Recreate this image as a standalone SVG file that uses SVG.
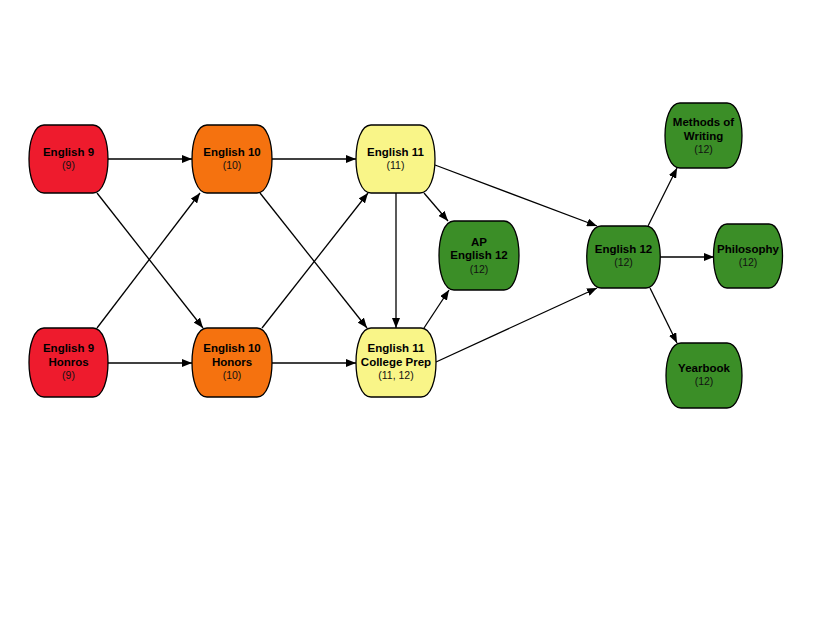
<svg xmlns="http://www.w3.org/2000/svg" width="825" height="638" viewBox="0 0 825 638">
<style>
.n{stroke:#000;stroke-width:1.3}
.red{fill:#ee1b2d}.org{fill:#f5720f}.yel{fill:#f9f588}.grn{fill:#3b8e27}
.t{font-family:"Liberation Sans",Arial,sans-serif;font-size:11.5px;font-weight:bold;text-anchor:middle;fill:#000}
.s{font-family:"Liberation Sans",Arial,sans-serif;font-size:10.5px;text-anchor:middle;fill:#111}
.e{stroke:#000;stroke-width:1.3;fill:none;marker-end:url(#ah)}
</style>
<defs>
<marker id="ah" viewBox="0 0 10 8" refX="10" refY="4" markerWidth="10" markerHeight="8" markerUnits="userSpaceOnUse" orient="auto">
<path d="M0,0 L10,4 L0,8 Z" fill="#000"/>
</marker>
</defs>
<rect width="825" height="638" fill="#fff"/>
<g id="connectors">
<line class="e" x1="108" y1="159" x2="192" y2="159"/>
<line class="e" x1="97" y1="193" x2="203" y2="328"/>
<line class="e" x1="97" y1="328" x2="200" y2="193"/>
<line class="e" x1="108" y1="363" x2="192" y2="363"/>
<line class="e" x1="272" y1="159" x2="356" y2="159"/>
<line class="e" x1="260" y1="193" x2="367" y2="328"/>
<line class="e" x1="262" y1="328" x2="368" y2="193"/>
<line class="e" x1="272" y1="363" x2="356" y2="363"/>
<line class="e" x1="424" y1="193" x2="448" y2="221"/>
<line class="e" x1="396" y1="193" x2="396" y2="328"/>
<line class="e" x1="424" y1="328" x2="449" y2="290"/>
<line class="e" x1="435" y1="165" x2="597" y2="226"/>
<line class="e" x1="436" y1="362" x2="597" y2="288"/>
<line class="e" x1="648" y1="226" x2="677" y2="168"/>
<line class="e" x1="660" y1="257" x2="714" y2="257"/>
<line class="e" x1="650" y1="288" x2="677" y2="343"/>
</g>
<g id="english9">
<path class="n red" d="M44,125 H93 C113,125 113,193 93,193 H44 C24,193 24,125 44,125 Z"/>
<text class="t" x="68.5" y="156">English 9</text>
<text class="s" x="68.5" y="169">(9)</text>
</g>
<g id="english10">
<path class="n org" d="M207,125 H257 C277,125 277,193 257,193 H207 C187,193 187,125 207,125 Z"/>
<text class="t" x="232" y="156">English 10</text>
<text class="s" x="232" y="169">(10)</text>
</g>
<g id="english11">
<path class="n yel" d="M371,125 H420 C440,125 440,193 420,193 H371 C351,193 351,125 371,125 Z"/>
<text class="t" x="395.5" y="156">English 11</text>
<text class="s" x="395.5" y="169">(11)</text>
</g>
<g id="english9honors">
<path class="n red" d="M44,328 H93 C113,328 113,397 93,397 H44 C24,397 24,328 44,328 Z"/>
<text class="t" x="68.5" y="352">English 9</text>
<text class="t" x="68.5" y="366">Honros</text>
<text class="s" x="68.5" y="379">(9)</text>
</g>
<g id="english10honors">
<path class="n org" d="M207,328 H257 C277,328 277,397 257,397 H207 C187,397 187,328 207,328 Z"/>
<text class="t" x="232" y="352">English 10</text>
<text class="t" x="232" y="366">Honors</text>
<text class="s" x="232" y="379">(10)</text>
</g>
<g id="english11cp">
<path class="n yel" d="M371,328 H421 C441,328 441,397 421,397 H371 C351,397 351,328 371,328 Z"/>
<text class="t" x="396" y="352">English 11</text>
<text class="t" x="396" y="366">College Prep</text>
<text class="s" x="396" y="379">(11, 12)</text>
</g>
<g id="apenglish12">
<path class="n grn" d="M454,221 H504 C524,221 524,290 504,290 H454 C434,290 434,221 454,221 Z"/>
<text class="t" x="479" y="246">AP</text>
<text class="t" x="479" y="259">English 12</text>
<text class="s" x="479" y="273">(12)</text>
</g>
<g id="english12">
<path class="n grn" d="M601,226 H646 C665,226 665,288 646,288 H601 C582,288 582,226 601,226 Z"/>
<text class="t" x="623.5" y="253">English 12</text>
<text class="s" x="623.5" y="266">(12)</text>
</g>
<g id="methods">
<path class="n grn" d="M680,103 H727 C747,103 747,168 727,168 H680 C660,168 660,103 680,103 Z"/>
<text class="t" x="703.5" y="126">Methods of</text>
<text class="t" x="703.5" y="140">Writing</text>
<text class="s" x="703.5" y="153">(12)</text>
</g>
<g id="philosophy">
<path class="n grn" d="M727,224 H769 C787,224 787,288 769,288 H727 C709,288 709,224 727,224 Z"/>
<text class="t" x="748" y="253">Philosophy</text>
<text class="s" x="748" y="266">(12)</text>
</g>
<g id="yearbook">
<path class="n grn" d="M681,343 H727 C747,343 747,408 727,408 H681 C661,408 661,343 681,343 Z"/>
<text class="t" x="704" y="372">Yearbook</text>
<text class="s" x="704" y="385">(12)</text>
</g>
</svg>
